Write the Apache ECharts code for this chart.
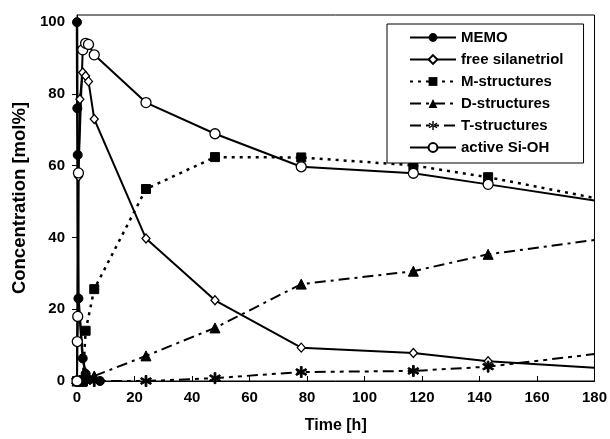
<!DOCTYPE html>
<html>
<head>
<meta charset="utf-8">
<script src="https://cdn.jsdelivr.net/npm/echarts@6/dist/echarts.min.js"></script>
<style>
  html, body { margin: 0; padding: 0; background: #fff; }
  #chart { width: 610px; height: 439px; }
</style>
</head>
<body>
<div id="chart"></div>
<script>
// Reaction time in hours and concentrations in mol%
const seriesNames = ['MEMO', 'free silanetriol', 'M-structures', 'D-structures', 'T-structures', 'active Si-OH'];

const timeMemo = [0, 0.1, 0.25, 0.5, 2, 3, 8];
const memo = [100, 76, 63, 23, 6.3, 2, 0];

const timeSilanetriol = [0, 0.1, 0.25, 0.5, 1, 2, 3, 4, 6, 24, 48, 78, 117, 143, 180];
const silanetriol = [0, 11, 18, 57, 78.5, 86, 85, 83.5, 73, 39.7, 22.5, 9.3, 7.8, 5.5, 3.7];

const timeM = [0, 1, 2, 3, 6, 24, 48, 78, 117, 143, 180];
const mStructures = [0, 0, 0, 14, 25.6, 53.5, 62.4, 62.3, 60.1, 56.8, 51];

const timeD = [0, 1, 2, 3, 6, 24, 48, 78, 117, 143, 180];
const dStructures = [0, 0, 0, 2.3, 1.4, 7, 14.8, 27, 30.6, 35.3, 39.3];

const timeT = [0, 1, 2, 3, 6, 24, 48, 78, 117, 143, 180];
const tStructures = [0, 0, 0, 0, 0, 0, 0.8, 2.5, 2.8, 4, 7.5];

const timeActive = [0, 0.1, 0.25, 0.5, 2, 3, 4, 6, 24, 48, 78, 117, 143, 180];
const activeSiOH = [0, 11, 18, 58, 92.3, 94.1, 93.8, 90.9, 77.6, 68.9, 59.7, 57.9, 54.8, 50.3];

const xTicks = [0, 20, 40, 60, 80, 100, 120, 140, 160, 180];
const yTicks = [0, 20, 40, 60, 80, 100];

// pair times with values; the point on the right frame carries no marker
function pairs(times, values) {
  return times.map((t, i) => {
    const item = { value: [t, values[i]] };
    if (t >= 180) item.symbol = 'none';
    return item;
  });
}

// six-armed asterisk marker
const asterisk = 'path://M8.5,0L11.5,0L11.5,20L8.5,20Z' +
  'M2.09,3.70L19.41,13.70L17.91,16.30L0.59,6.30Z' +
  'M2.09,16.30L19.41,6.30L17.91,3.70L0.59,13.70Z';

const FONT = 'Liberation Sans, Arial, Helvetica, sans-serif';
const ink = '#000';

function lineSeries(name, times, values, opts) {
  return {
    name: name,
    type: 'line',
    data: pairs(times, values),
    showAllSymbol: true,
    animation: false,
    clip: true,
    lineStyle: Object.assign({ color: ink, width: 2 }, opts.line || {}),
    itemStyle: Object.assign({ color: ink, borderColor: ink }, opts.item || {}),
    symbol: opts.symbol,
    symbolSize: opts.size
  };
}

const chart = echarts.init(document.getElementById('chart'), null, { renderer: 'canvas' });

chart.setOption({
  backgroundColor: '#fff',
  animation: false,
  grid: {
    left: 77, right: 14, top: 15, bottom: 54,
    show: true, borderColor: ink, borderWidth: 1, backgroundColor: 'transparent'
  },
  legend: {
    orient: 'vertical',
    left: 387, top: 24,
    data: seriesNames,
    backgroundColor: '#fff',
    borderColor: ink, borderWidth: 1,
    padding: [6, 20, 8, 22],
    itemWidth: 46, itemHeight: 11, itemGap: 7,
    textStyle: { fontFamily: FONT, fontSize: 15, fontWeight: 'bold', color: ink },
    selectedMode: false
  },
  xAxis: {
    type: 'value',
    min: 0, max: 180, interval: 20,
    name: 'Time [h]',
    nameLocation: 'middle', nameGap: 37,
    nameTextStyle: { fontFamily: FONT, fontSize: 16, fontWeight: 'bold', color: ink },
    axisLine: { lineStyle: { color: ink, width: 1 } },
    axisTick: { inside: true, length: 5, lineStyle: { color: ink } },
    axisLabel: {
      margin: 9, fontFamily: FONT, fontSize: 15, fontWeight: 'bold', color: ink,
      formatter: v => xTicks.includes(v) ? String(v) : ''
    },
    splitLine: { show: false }
  },
  yAxis: {
    type: 'value',
    min: 0, max: 102, interval: 20,
    name: 'Concentration [mol%]',
    nameLocation: 'middle', nameGap: 48,
    nameTextStyle: { fontFamily: FONT, fontSize: 18.5, fontWeight: 'bold', color: ink },
    axisLine: { show: true, lineStyle: { color: ink, width: 1 } },
    axisTick: { show: true, length: 5, lineStyle: { color: ink } },
    axisLabel: {
      margin: 12, fontFamily: FONT, fontSize: 15, fontWeight: 'bold', color: ink,
      showMaxLabel: false,
      formatter: v => yTicks.includes(v) ? String(v) : ''
    },
    splitLine: { show: false }
  },
  series: [
    lineSeries('MEMO', timeMemo, memo, {
      symbol: 'circle', size: 9, line: { width: 2.5 }
    }),
    lineSeries('free silanetriol', timeSilanetriol, silanetriol, {
      symbol: 'diamond', size: [8, 9],
      item: { color: '#fff', borderWidth: 1.3 }
    }),
    lineSeries('M-structures', timeM, mStructures, {
      symbol: 'rect', size: 9,
      line: { type: [3, 5], width: 2.5 }
    }),
    lineSeries('D-structures', timeD, dStructures, {
      symbol: 'triangle', size: 10,
      line: { type: [11, 5, 3, 5], width: 2 }
    }),
    lineSeries('T-structures', timeT, tStructures, {
      symbol: asterisk, size: 11,
      line: { type: [11, 5, 4, 5, 4, 5], width: 2 }
    }),
    lineSeries('active Si-OH', timeActive, activeSiOH, {
      symbol: 'circle', size: 10,
      item: { color: '#fff', borderWidth: 1.3 }
    })
  ]
});
</script>
</body>
</html>
